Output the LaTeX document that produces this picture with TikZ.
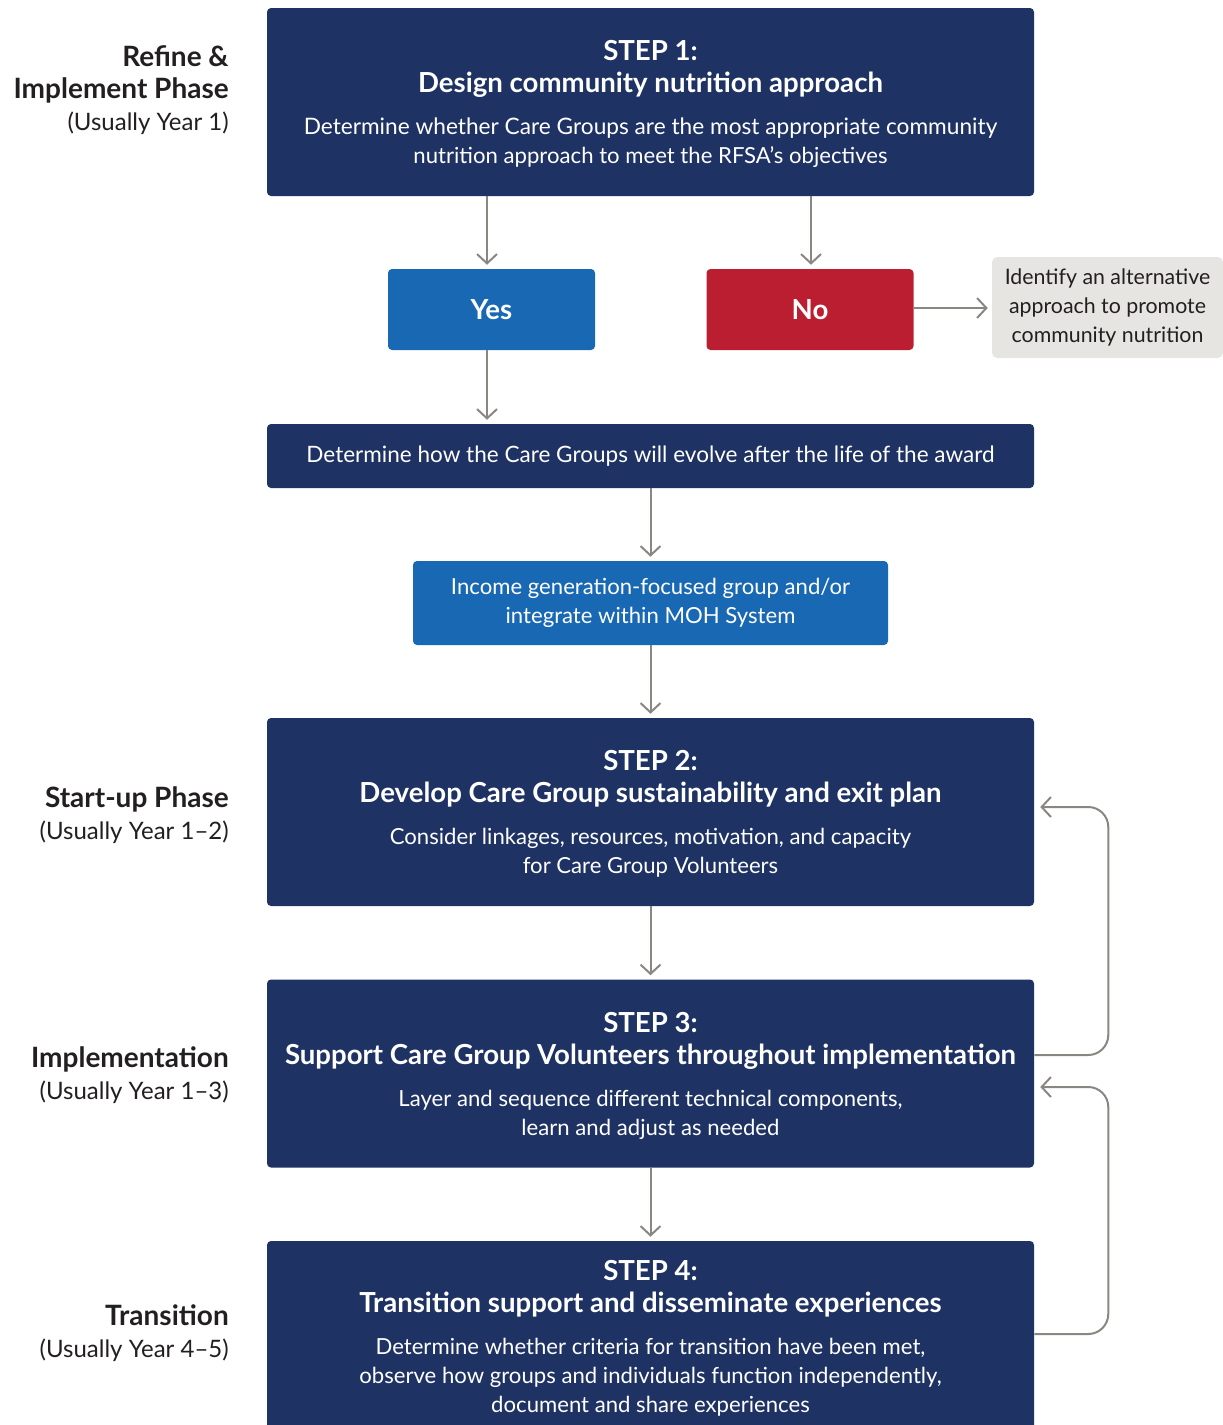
\documentclass[tikz,border=0pt]{standalone}
\usepackage{fontspec}
\setmainfont{Lato}
\usetikzlibrary{arrows.meta,calc}
\definecolor{navy}{RGB}{31,50,100}
\definecolor{bluebox}{RGB}{24,104,180}
\definecolor{redbox}{RGB}{186,30,48}
\definecolor{graybox}{RGB}{230,229,225}
\definecolor{arrowgray}{RGB}{138,135,130}
\definecolor{labeltext}{RGB}{35,31,32}
\newcommand{\bodyfnt}{\fontsize{16.6}{21.75}\selectfont}
\newcommand{\titlefnt}{\fontsize{20.7}{21.75}\selectfont\bfseries}
\newcommand{\phasebold}{\fontsize{21}{24}\selectfont\bfseries}
\begin{document}
\begin{tikzpicture}[x=0.75pt,y=-0.75pt,
  conn/.style={draw=arrowgray, line width=1.5pt, -{Straight Barb[length=7pt,width=15pt,line width=1.5pt]}, shorten >=3pt},
  box/.style={rounded corners=3pt, text=white, align=center, inner sep=0pt, font=\bodyfnt},
  stepbox/.style={box, fill=navy, minimum width=575.25pt, minimum height=141pt},
  steptext/.style={text=white, align=center, inner sep=0pt, font=\bodyfnt},
  choicebox/.style={box, fill=#1, minimum width=155.25pt, minimum height=60.75pt, font=\titlefnt},
  phaselabel/.style={anchor=east, align=right, text=labeltext, inner sep=0pt, font=\fontsize{18}{24}\selectfont}
]
\useasboundingbox (0,0) rectangle (1223,1425);

% step boxes
\node[stepbox] (s1) at (650.5,102) {};
\node[steptext] (t1) at (650.5,104) {{\titlefnt STEP 1:}\\[2.25pt]{\titlefnt Design community nutrition approach}\\[9.75pt]{\fontsize{17}{21.75}\selectfont Determine whether Care Groups are the most appropriate community}\\nutrition approach to meet the RFSA’s objectives};
\node[choicebox=bluebox] (yes) at (491.5,309.5) {Yes};
\node[choicebox=redbox] (no) at (810,309.5) {No};
\node[box, fill=graybox, text=labeltext, rounded corners=4pt, minimum width=173.25pt, minimum height=75.75pt, font=\fontsize{16}{21.75}\selectfont] (alt) at (1107.5,307.5) {Identify an alternative\\approach to promote\\community nutrition};
\node[box, fill=navy, minimum width=575.25pt, minimum height=48pt, font=\fontsize{16.9}{21.75}\selectfont] (det) at (650.5,456) {Determine how the Care Groups will evolve after the life of the award};
\node[box, fill=bluebox, minimum width=356.25pt, minimum height=63pt] (inc) at (650.5,603) {Income generation-focused group and/or\\integrate within MOH System};
\node[stepbox] (s2) at (650.5,812) {};
\node[steptext] (t2) at (650.5,814) {{\titlefnt STEP 2:}\\[2.25pt]{\titlefnt Develop Care Group sustainability and exit plan}\\[9.75pt]Consider linkages, resources, motivation, and capacity\\for Care Group Volunteers};
\node[stepbox] (s3) at (650.5,1073.5) {};
\node[steptext] (t3) at (650.5,1075.5) {{\titlefnt STEP 3:}\\[2.25pt]{\titlefnt Support Care Group Volunteers throughout implementation}\\[9.75pt]Layer and sequence different technical components,\\learn and adjust as needed};
\node[stepbox, minimum height=142.5pt] (s4) at (650.5,1336) {};
\node[steptext] (t4) at (650.5,1338) {{\titlefnt STEP 4:}\\[2.25pt]{\titlefnt Transition support and disseminate experiences}\\[9.75pt]Determine whether criteria for transition have been met,\\observe how groups and individuals function independently,\\document and share experiences};

% phase labels
\node[phaselabel] (p1) at (229,90) {{\phasebold Refine \&}\\{\phasebold Implement Phase}\\(Usually Year 1)};
\node[phaselabel] (p2) at (229,815) {{\phasebold Start-up Phase}\\(Usually Year 1–2)};
\node[phaselabel] (p3) at (229,1075.5) {{\phasebold Implementation}\\(Usually Year 1–3)};
\node[phaselabel] (p4) at (229,1333.5) {{\phasebold Transition}\\(Usually Year 4–5)};

% connectors
\draw[conn] ($(s1.south)+(-163.5,0)$) -- ($(yes.north)+(-4.5,0)$);
\draw[conn] ($(s1.south)+(160.5,0)$) -- ($(no.north)+(1,0)$);
\draw[conn] ($(no.east)+(0,-1.5)$) -- ($(no.east -| alt.west)+(0,-1.5)$);
\draw[conn] ($(yes.south)+(-4.5,0)$) -- ($(det.north)+(-163.5,0)$);
\draw[conn] (det.south) -- (inc.north);
\draw[conn] (inc.south) -- (s2.north);
\draw[conn] (s2.south) -- (s3.north);
\draw[conn] (s3.south) -- (s4.north);
\draw[conn, rounded corners=15pt] ($(s3.east)+(0,-18.5)$) -- ++(74,0) |- ($(s2.east)+(2,-5)$);
\draw[conn, rounded corners=15pt] ($(s4.east)+(0,-2)$) -- ++(74,0) |- ($(s3.east)+(2,13.5)$);
\end{tikzpicture}
\end{document}
